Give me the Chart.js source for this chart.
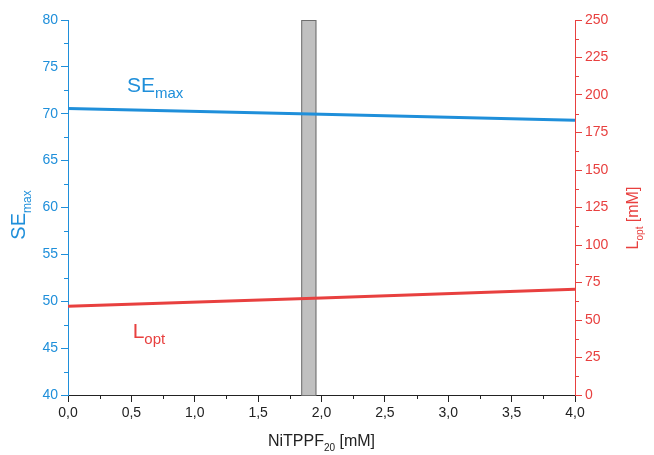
<!DOCTYPE html>
<html>
<head>
<meta charset="utf-8">
<script src="https://cdn.jsdelivr.net/npm/chart.js@4.4.1/dist/chart.umd.min.js"></script>
<style>
  html, body { margin: 0; padding: 0; background: #fff; }
  #wrap { width: 654px; height: 455px; }
</style>
</head>
<body>
<div id="wrap"><canvas id="chart" width="654" height="455"></canvas></div>
<script>
// data
const conc = [0, 2, 4];                 // NiTPPF20 [mM]
const seMax = [70.57, 69.95, 69.3];     // left axis
const lOpt = [59.1, 64.6, 70.5];        // right axis [mM]
const band = [1.84, 1.96];              // grey bar on x
const xTicks = [0, 0.5, 1, 1.5, 2, 2.5, 3, 3.5, 4];

const blue = "#1f8fda";
const red = "#e8403f";
const font = "'Liberation Sans', Arial, sans-serif";

// draws text with a subscript part, starting at x,y (baseline)
function subText(ctx, x, y, main, sub, rest, size, subSize, align) {
  ctx.font = size + "px " + font;
  const w1 = ctx.measureText(main).width;
  ctx.font = subSize + "px " + font;
  const w2 = ctx.measureText(sub).width;
  ctx.font = size + "px " + font;
  const w3 = rest ? ctx.measureText(rest).width : 0;
  let sx = x;
  if (align === "center") sx = x - (w1 + w2 + w3) / 2;
  ctx.textAlign = "left";
  ctx.textBaseline = "alphabetic";
  ctx.fillText(main, sx, y);
  ctx.font = subSize + "px " + font;
  ctx.fillText(sub, sx + w1, y + size * 0.3);
  if (rest) {
    ctx.font = size + "px " + font;
    ctx.fillText(rest, sx + w1 + w2, y);
  }
}

const extras = {
  id: "extras",
  beforeDatasetsDraw(chart) {
    const { ctx, chartArea, scales } = chart;
    const x0 = scales.x.getPixelForValue(band[0]);
    const x1 = scales.x.getPixelForValue(band[1]);
    ctx.save();
    ctx.fillStyle = "#c0c0c0";
    ctx.strokeStyle = "#6e6e6e";
    ctx.lineWidth = 1;
    ctx.fillRect(x0, chartArea.top, x1 - x0, chartArea.bottom - chartArea.top);
    ctx.strokeRect(x0 + 0.5, chartArea.top + 0.5, x1 - x0 - 1, chartArea.bottom - chartArea.top);
    ctx.restore();
  },
  afterDraw(chart) {
    const { ctx, chartArea, scales } = chart;
    ctx.save();
    ctx.lineWidth = 1;
    // minor ticks
    ctx.strokeStyle = "#222";
    for (let v = 0.25; v < 4; v += 0.5) {
      const px = Math.round(scales.x.getPixelForValue(v)) + 0.5;
      ctx.beginPath(); ctx.moveTo(px, chartArea.bottom); ctx.lineTo(px, chartArea.bottom + 4); ctx.stroke();
    }
    ctx.strokeStyle = blue;
    for (let v = 42.5; v < 80; v += 5) {
      const py = Math.round(scales.y.getPixelForValue(v)) + 0.5;
      ctx.beginPath(); ctx.moveTo(chartArea.left, py); ctx.lineTo(chartArea.left - 4, py); ctx.stroke();
    }
    ctx.strokeStyle = red;
    for (let v = 12.5; v < 250; v += 25) {
      const py = Math.round(scales.y2.getPixelForValue(v)) + 0.5;
      ctx.beginPath(); ctx.moveTo(chartArea.right, py); ctx.lineTo(chartArea.right + 4, py); ctx.stroke();
    }

    // in-plot labels
    ctx.fillStyle = blue;
    subText(ctx, scales.x.getPixelForValue(0.465), scales.y.getPixelForValue(72.3), "SE", "max", "", 21, 15);
    ctx.fillStyle = red;
    subText(ctx, scales.x.getPixelForValue(0.51), scales.y.getPixelForValue(46.1), "L", "opt", "", 21, 15);

    // axis titles
    ctx.fillStyle = "#222";
    subText(ctx, (chartArea.left + chartArea.right) / 2, 446, "NiTPPF", "20", " [mM]", 16, 10, "center");

    ctx.save();
    ctx.translate(25, 215);
    ctx.rotate(-Math.PI / 2);
    ctx.fillStyle = blue;
    subText(ctx, 0, 0, "SE", "max", "", 20, 12, "center");
    ctx.restore();

    ctx.save();
    ctx.translate(638, 218);
    ctx.rotate(-Math.PI / 2);
    ctx.fillStyle = red;
    subText(ctx, 0, 0, "L", "opt", " [mM]", 16, 10, "center");
    ctx.restore();

    ctx.restore();
  }
};

new Chart(document.getElementById("chart"), {
  type: "line",
  data: {
    datasets: [
      {
        label: "SEmax",
        data: conc.map((c, i) => ({ x: c, y: seMax[i] })),
        borderColor: blue,
        borderWidth: 3,
        pointRadius: 0,
        yAxisID: "y"
      },
      {
        label: "Lopt",
        data: conc.map((c, i) => ({ x: c, y: lOpt[i] })),
        borderColor: red,
        borderWidth: 3,
        pointRadius: 0,
        yAxisID: "y2"
      }
    ]
  },
  options: {
    responsive: false,
    animation: false,
    layout: { padding: { top: 20 } },
    plugins: { legend: { display: false }, tooltip: { enabled: false } },
    scales: {
      x: {
        type: "linear",
        min: 0,
        max: 4,
        afterBuildTicks: (s) => { s.ticks = xTicks.map(v => ({ value: v })); },
        afterFit: (s) => { s.height = 60; },
        grid: { drawOnChartArea: false, tickLength: 7, color: "#222", tickColor: "#222" },
        border: { color: "#222", width: 1 },
        ticks: {
          color: "#222",
          font: { family: font, size: 14 },
          padding: 3,
          maxRotation: 0,
          callback: (v) => v.toFixed(1).replace(".", ",")
        }
      },
      y: {
        position: "left",
        min: 40,
        max: 80,
        afterFit: (s) => { s.width = 68; },
        grid: { drawOnChartArea: false, tickLength: 7, tickColor: blue },
        border: { color: blue, width: 1 },
        ticks: { stepSize: 5, color: blue, font: { family: font, size: 14 }, padding: 3 }
      },
      y2: {
        position: "right",
        min: 0,
        max: 250,
        afterFit: (s) => { s.width = 79; },
        grid: { drawOnChartArea: false, tickLength: 7, tickColor: red },
        border: { color: red, width: 1 },
        ticks: { stepSize: 25, color: red, font: { family: font, size: 14 }, padding: 3 }
      }
    }
  },
  plugins: [extras]
});
</script>
</body>
</html>
